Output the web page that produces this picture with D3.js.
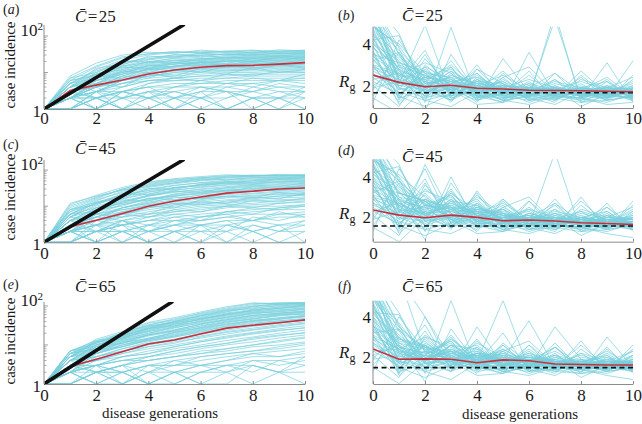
<!DOCTYPE html>
<html><head><meta charset="utf-8">
<script src="https://cdn.jsdelivr.net/npm/d3@7"></script>
<style>
body{margin:0;background:#fff}
svg{display:block}
text{font-family:"Liberation Serif","Times New Roman",serif;fill:#1a1a1a}
</style>
</head><body><svg id="c" width="642" height="424"></svg>
<script>
// ---------------- DATA ----------------
const generations = [0,1,2,3,4,5,6,7,8,9,10];
const xTicks = [0,2,4,6,8,10];
const panelLetters = ["a","b","c","d","e","f"];
const meanContacts = [25,45,65];
const rgTicks = [2,4];
const xTitle = "disease generations";
const incidenceTitle = "case incidence";

// simulated case incidence trajectories (left column)
const incidenceA = [
[1,5,12,22,30,35,38,36,40,38,41],[1,4,10,18,26,30,33,35,34,37,38],[1,6,14,25,33,36,35,38,36,39,40],
[1,3,8,15,22,27,30,31,33,34,35],[1,4,9,14,20,24,26,29,30,31,33],[1,5,11,19,24,28,30,32,31,33,32],
[1,3,7,12,17,21,24,26,28,29,30],[1,2,5,10,15,19,22,25,26,28,29],[1,4,8,13,18,22,24,25,27,27,28],
[1,3,6,11,16,19,21,23,25,26,27],[1,2,4,8,13,17,20,22,23,25,26],[1,5,9,15,19,21,22,24,25,24,25],
[1,3,7,10,14,17,19,21,22,23,24],[1,2,5,8,12,15,18,20,21,22,23],[1,4,7,11,15,17,19,20,20,21,22],
[1,3,5,9,12,15,17,18,19,20,21],[1,2,4,7,11,14,16,17,18,19,20],[1,3,6,10,13,15,16,17,17,18,19],
[1,2,3,6,9,12,14,16,17,17,18],[1,4,6,9,12,13,15,16,16,17,17],[1,2,4,6,9,11,13,14,15,16,16],
[1,3,5,7,10,12,13,14,14,15,15],[1,1,3,5,8,10,12,13,13,14,14],[1,2,4,6,8,10,11,12,12,13,13],
[1,3,4,6,8,9,10,11,11,12,12],[1,2,3,5,7,8,9,10,10,11,11],[1,1,2,4,6,7,8,9,9,10,10],
[1,2,3,4,6,7,8,8,9,9,9],[1,3,4,5,6,6,7,7,8,8,8],[1,2,2,3,5,6,6,7,7,7,7],
[1,1,2,3,4,5,5,6,6,6,6],[1,2,3,3,4,4,5,5,5,6,5],[1,1,2,2,3,4,4,4,5,4,4],
[1,2,1,2,3,3,4,3,3,4,3],[1,1,2,1,2,2,3,3,2,3,3],[1,2,1,2,1,2,2,1,2,2,2],
[1,1,1,2,2,1,2,2,3,2,1],[1,2,2,1,1,2,1,1,2,1,2],[1,3,2,3,2,1,2,3,2,2,4],[1,1,2,3,2,3,2,1,1,2,1],
[1,6,9,16,28,26,34,30,37,33,36],[1,4,13,17,23,31,27,33,29,35,31],[1,7,10,21,19,25,29,26,31,28,34],
[1,3,9,12,20,18,23,27,24,29,26],[1,5,7,14,13,19,17,22,20,26,23],[1,2,6,9,16,14,20,18,24,21,27],
[1,4,5,11,10,15,19,16,21,18,22],[1,6,8,7,13,11,16,14,19,15,17],[1,3,4,8,7,12,10,15,13,17,14],
[1,2,5,4,9,8,13,11,12,16,13],[1,5,3,6,10,7,11,9,14,10,12],[1,1,3,2,5,7,6,9,8,11,10],
[1,3,1,3,2,4,6,5,7,6,9],[1,2,4,2,3,1,3,5,4,6,7],[1,4,2,1,2,3,2,4,3,5,4],
[1,1,3,1,1,2,4,3,1,2,3],[1,2,1,3,4,2,1,2,4,3,2],[1,3,2,1,3,2,3,1,2,1,3],
[1,8,18,30,36,33,41,37,35,42,39],[1,7,15,27,32,38,34,39,41,36,37]
];
const incidenceC = [
[1,8,16,30,45,55,62,70,72,70,73],[1,6,14,26,40,50,58,64,68,70,71],[1,10,18,28,38,48,55,60,65,66,68],
[1,7,12,22,33,42,50,56,60,63,65],[1,5,11,19,28,37,45,52,57,60,62],[1,6,12,20,30,38,44,48,54,57,59],
[1,4,9,16,24,32,40,46,50,54,56],[1,8,13,20,27,33,38,44,47,50,53],[1,3,7,13,20,27,34,40,44,47,50],
[1,5,10,16,22,28,33,38,42,45,48],[1,4,8,13,19,24,30,35,39,42,45],[1,6,9,14,20,25,29,32,36,40,42],
[1,3,6,11,16,21,26,30,34,37,40],[1,2,5,9,14,19,24,28,31,34,37],[1,4,7,11,15,20,23,27,30,32,35],
[1,5,8,12,16,19,22,25,27,30,32],[1,3,5,9,13,17,20,23,26,28,30],[1,2,4,7,11,14,18,21,23,26,28],
[1,3,6,9,12,15,17,19,22,24,26],[1,4,6,8,11,13,16,18,20,22,24],[1,2,3,6,9,12,14,17,19,21,22],
[1,3,5,7,9,11,13,15,17,19,20],[1,2,4,6,8,10,12,13,15,17,18],[1,1,3,5,7,9,11,12,14,15,16],
[1,2,3,4,6,8,10,11,12,14,15],[1,3,4,5,6,7,9,10,11,12,13],[1,2,2,4,5,6,7,9,10,10,11],
[1,1,2,3,4,5,6,7,8,9,10],[1,2,3,3,4,4,5,6,7,8,8],[1,1,2,2,3,4,4,5,6,6,7],
[1,2,1,2,2,3,3,4,4,5,5],[1,3,2,3,2,2,3,3,4,3,4],[1,1,2,1,2,3,2,3,2,3,3],
[1,2,1,2,1,1,2,2,3,2,2],[1,1,2,2,1,2,1,2,1,2,3],[1,2,3,2,1,2,3,1,2,1,1],
[1,3,4,6,5,7,8,10,9,12,14],[1,4,5,8,10,12,11,14,16,19,21],[1,2,2,3,4,6,5,7,9,8,10],[1,1,1,2,3,3,4,5,4,6,6],
[1,11,20,33,47,58,66,74,70,76,72],[1,9,17,30,42,53,61,67,72,69,75],[1,7,15,24,36,44,57,53,63,60,66],
[1,5,13,17,31,29,41,48,45,55,52],[1,8,11,22,21,33,36,44,40,49,46],[1,4,9,12,19,26,24,33,38,35,44],
[1,6,7,15,14,22,27,25,34,31,39],[1,3,8,10,17,15,21,28,26,30,36],[1,5,4,9,12,18,16,22,29,27,33],
[1,2,6,5,10,9,15,19,17,24,21],[1,4,3,7,6,11,13,12,18,16,23],[1,1,4,3,5,8,7,10,14,13,17],
[1,3,1,4,3,5,4,7,6,9,11],[1,2,3,1,2,4,3,2,5,4,6],[1,4,2,3,1,2,1,3,2,1,2],
[1,1,2,4,2,1,3,4,2,3,1],[1,2,1,1,3,2,2,1,3,2,4],[1,3,5,4,2,3,5,6,4,7,5],
[1,12,19,28,35,45,52,63,68,73,70],[1,6,12,18,25,31,39,42,51,57,61]
];
const incidenceE = [
[1,7,13,20,36,44,66,89,115,118,125],[1,6,12,19,33,42,60,80,100,110,118],[1,5,11,18,30,40,55,72,90,100,110],
[1,6,10,16,27,36,50,66,82,92,102],[1,4,9,15,25,33,46,60,75,85,95],[1,5,9,14,22,30,42,55,68,78,88],
[1,3,8,13,20,27,38,50,62,72,80],[1,6,8,12,18,24,34,45,56,66,75],[1,4,7,11,17,22,31,41,51,60,69],
[1,3,6,10,15,20,28,37,46,55,63],[1,5,7,10,14,18,25,33,42,50,58],[1,2,5,8,12,16,22,30,38,45,52],
[1,4,6,9,13,16,21,27,34,41,48],[1,3,5,8,11,14,19,24,30,36,43],[1,2,4,7,10,13,17,22,27,33,39],
[1,4,5,7,9,12,15,19,24,29,35],[1,3,4,6,8,10,13,17,21,26,31],[1,2,3,5,7,9,12,15,19,23,28],
[1,3,4,5,6,8,10,13,16,20,24],[1,2,3,4,5,7,9,11,14,17,21],[1,1,2,3,5,6,8,10,12,15,18],
[1,2,2,3,4,5,7,8,10,12,15],[1,3,3,4,4,5,6,7,9,10,12],[1,1,2,2,3,4,5,6,7,8,10],
[1,2,1,2,3,3,4,5,6,7,8],[1,3,2,3,2,3,3,4,5,5,6],[1,1,2,1,2,2,3,3,4,4,5],
[1,2,1,2,1,2,2,3,3,2,3],[1,1,2,2,1,1,2,2,1,2,2],[1,2,3,2,1,2,1,2,3,2,1],
[1,5,12,17,28,38,52,70,95,108,112],[1,6,11,19,31,37,48,62,78,95,105],[1,4,10,17,26,35,44,58,70,80,90],
[1,5,10,15,24,31,40,51,64,75,84],[1,7,12,16,22,28,36,47,58,64,72],[1,3,7,12,19,25,33,43,53,62,70],
[1,4,8,13,18,23,30,39,48,57,66],[1,2,6,9,14,19,26,34,43,49,56],[1,5,8,11,15,21,27,35,40,46,54],
[1,3,6,10,13,17,23,29,36,42,46],
[1,6,14,22,38,50,70,95,120,112,122],[1,7,11,21,32,47,63,84,108,120,115],[1,5,13,16,29,39,57,77,85,104,108],
[1,4,10,15,23,34,45,64,73,88,99],[1,6,8,14,20,29,40,52,66,70,83],[1,3,9,11,18,23,35,44,57,65,74],
[1,5,6,12,14,21,28,39,46,59,61],[1,2,7,9,13,17,24,31,41,47,55],[1,4,5,7,11,14,20,26,33,39,42],
[1,3,4,6,9,11,16,21,25,31,36],[1,2,3,5,6,9,12,16,20,24,27],[1,1,3,4,5,7,9,11,15,18,20],
[1,3,2,3,4,5,6,8,10,13,16],[1,2,3,2,3,3,5,6,7,9,11],[1,4,2,1,2,4,3,4,6,5,7],
[1,1,2,3,1,2,3,2,4,3,4],[1,2,1,1,2,1,2,3,2,4,3],[1,3,3,1,3,2,1,1,3,2,5],
[1,7,9,18,26,40,56,76,98,115,120],[1,5,12,14,27,31,47,58,79,86,102]
];
const meanIncidenceA = [1,3.2,4.5,6.2,9.1,11.7,13.9,15.4,15.7,17,18.6];
const meanIncidenceC = [1,2.7,4.1,6.3,10,13.9,18,23,26,30,32];
const meanIncidenceE = [1,2.8,4.3,6.7,10.6,13.4,19,27,32,37,44];
// reference exponential growth line (start, end at top of plot)
const growthLineA = [[0,1],[5.34,200]];
const growthLineC = [[0,1],[5.33,190]];
const growthLineE = [[0,1],[4.9,126]];

// generation reproduction number trajectories (right column)
const rgB = [
[6,3.5,2.4,2.2,2,1.9,1.8,1.9,1.8,1.7,1.8],[5,3,2.5,2.1,1.9,1.8,1.9,1.8,1.7,1.8,1.7],[4.2,2.8,2.2,2,1.8,1.9,1.7,1.8,1.8,1.7,1.6],
[3.6,2.5,2.3,1.9,2,1.8,1.8,1.7,1.9,1.8,1.7],[5.5,2.2,1.9,2.1,1.7,1.8,1.7,1.8,1.6,1.7,1.8],[3,2.6,2,1.8,1.9,1.7,1.8,1.6,1.7,1.8,1.6],
[4.8,4,2.6,2.4,2.1,2,1.9,1.8,1.8,1.9,1.7],[2.5,2,1.8,2,1.8,1.9,1.6,1.7,1.8,1.6,1.7],[6,1.5,2.8,1.8,2.2,1.7,1.9,1.8,1.7,1.7,1.8],
[4,3.2,1.6,2.3,1.7,2,1.8,1.7,1.8,1.8,1.6],[2,1,3,2,1.9,1.6,1.8,1.9,1.6,1.7,1.7],[3.3,1.8,2.1,1.6,2,1.7,1.6,1.8,1.7,1.5,1.8],
[5,2.7,1.5,2.6,1.6,2.1,1.5,1.9,1.6,1.8,1.5],[1.5,3,2,1.5,2.2,1.6,1.9,1.5,2,1.5,1.9],[4.5,1.3,3.3,1.9,1.5,2.3,1.6,1.7,1.5,1.9,1.6],
[2.8,2.3,1.7,2.2,1.8,1.5,2,1.6,1.9,1.6,1.7],[6,3.8,1.2,4.8,1.4,1.8,1.7,2,1.5,1.6,1.9],[3.9,2,2.4,1.7,2.5,1.7,1.5,1.8,1.7,2,1.5],
[1.2,4.2,2.2,1.3,2.4,1.9,1.6,1.5,2.1,1.4,2],[5.2,2.4,1.8,2.9,1.5,1.6,2.2,1.4,1.7,1.9,1.4],[2.2,1.6,2.6,1.7,1.6,2.4,1.4,1.9,1.5,1.7,2.1],
[4.3,1.9,1.4,2.5,2.1,1.4,1.7,2.3,1.5,1.6,1.8],[6,2.9,2,1.4,1.9,2.2,1.3,1.6,2.4,1.4,1.7],[3.5,1.4,2.9,2.3,1.3,1.8,2.1,1.5,1.4,2.2,1.5],
[2,2.8,0.8,3.5,1.7,1.3,1.9,1.7,1.6,1.4,2.3],[4.7,3.4,2.3,1.2,2.8,1.6,1.5,1.3,1.9,1.7,1.3],[3,1.2,2.5,2,1.2,2.6,1.4,5.5,1.2,1.8,1.6],
[5.8,2.1,4.9,1.5,2.3,1.5,1.8,1.4,1.8,1.3,1.9],[1.8,3.6,1.6,1.9,1.5,1.2,3.6,1.6,1.3,2,1.4],[4.1,2.6,1.9,3.2,1.6,2,1.3,2,1.5,1.4,3.2],
[2.6,1.7,1.3,1.6,3,1.4,1.6,1.2,2.5,1.5,1.5],[6,4.5,1.7,1.9,1.4,1.6,2.5,1.5,1.3,1.6,1.4],[3.2,2.2,3.7,1.4,1.8,1.3,1.5,5.2,1.4,1.2,1.6],
[1.4,0.7,1.9,2.7,2,1.7,1.2,1.6,1.6,2.3,1.3],[5.3,3.1,2.7,1.8,1.3,3.3,1.7,1.3,1.9,1.3,1.5],[2.4,1.5,1,1.6,2.6,1.5,1.3,1.4,1.2,1.5,1.4],
[4.9,3.9,2.1,2.4,1.5,1.4,1.9,1.6,1.4,3.1,1.2],[6,2.3,1.3,1,1.7,1.8,1.4,1.1,1.7,1.3,2.5],[3.7,1.1,2.2,1.8,1.1,1.2,1.6,1.9,1,1.6,1.3],
[2.9,2.5,1.5,1.5,1.9,1.3,1.1,1.5,1.4,1.1,1.2],
[4.4,3.3,2.1,2.3,1.9,1.7,1.9,1.7,1.8,1.6,1.7],[3.8,2.9,2.5,1.8,2.1,1.9,1.7,1.9,1.6,1.8,1.9],[4.6,2.4,2.7,2.2,1.6,2,1.8,1.6,1.9,1.7,1.6],
[3.2,3.6,1.9,2.5,2,1.6,2.1,1.8,1.7,1.9,1.8],[2.7,2.1,2.9,1.7,2.3,1.8,1.7,2.1,1.8,1.5,1.7],[4,2.7,2.3,2.8,1.8,2.2,1.6,1.8,2.2,1.8,1.6],
[5,1.9,1.6,2.2,2.4,1.7,2,1.7,1.5,2,1.8],[3.5,3.1,2.6,1.6,2,2.5,1.8,1.5,1.8,1.7,2],[4.7,2.3,2,2.4,1.6,1.9,2.3,1.9,1.6,1.5,1.7],
[2.3,2.6,1.7,2.1,2.6,1.5,1.7,2.2,1.9,1.7,1.5],[3.9,1.8,3.5,1.5,1.8,2.7,1.6,1.4,2.3,1.9,1.8],[4.2,4.4,1.8,2.7,1.5,1.7,1.9,2.6,1.4,1.7,1.6],
[3,2,2.2,3,1.9,1.4,1.6,1.7,1.8,2.4,1.5],[5.7,3.5,1.4,1.8,2.8,2.1,1.5,1.8,1.6,1.6,2.2],[2.9,1.6,2.4,2.2,1.4,2.4,2.9,1.6,1.4,1.8,1.7],
[4.5,2.8,1.9,1.3,2.3,1.8,1.4,2.6,1.7,1.4,1.9],[3.4,2.5,3.1,2.6,1.6,1.2,1.8,1.5,2.7,1.6,1.4],[1.9,2.2,1.5,1.9,2.2,2.1,1.3,1.7,1.5,1.9,2.4],
[4.9,3.7,2.4,2.9,1.3,1.6,2.7,1.3,1.9,2.2,1.3],[3.6,1.4,1.8,1.3,1.9,1.3,1.5,2.3,1.2,1.3,1.5]
];
const rgD = [
[6,3.8,2.6,2.4,2.2,2,2,1.9,1.8,1.8,1.7],[5,3.2,2.8,2.5,2.3,2.1,1.9,2,1.9,1.8,1.8],[4.3,2.9,2.4,2.7,2.1,1.9,2.1,1.8,1.9,1.7,1.8],
[3.7,2.6,2.2,2.3,2.4,2,1.8,1.9,1.8,1.9,1.7],[5.6,2.3,2.5,2.1,2,2.2,1.9,1.8,1.7,1.8,1.9],[3.1,2.7,2.1,2.6,2.2,1.8,2,1.9,1.8,1.7,1.8],
[4.8,4.1,3,2.2,2.5,2.1,1.9,1.9,2,1.8,1.7],[2.6,2.1,2.6,2.3,1.9,2,1.8,2.1,1.8,1.9,1.6],[6,1.6,3.2,2,2.7,1.9,2.1,1.7,1.9,1.8,1.9],
[4.1,3.3,1.8,2.9,2.1,2.3,1.8,2,1.8,1.6,1.8],[2.1,1.1,3.6,2.1,2.3,1.7,2.2,1.8,1.7,2,1.7],[3.4,1.9,2.3,3.1,1.8,2.4,1.7,1.8,2.1,1.7,1.6],
[5.1,2.8,1.6,2.4,2.9,1.7,1.9,2.2,1.6,1.9,1.9],[1.6,3.2,2.2,1.8,2.6,1.9,1.7,1.8,1.9,1.6,2],[4.6,1.4,4.6,2.2,1.7,2.5,1.8,1.6,1.9,2.1,1.6],
[2.9,2.4,1.9,3.2,2.3,1.6,2.2,1.9,1.6,1.8,1.9],[6,3.9,1.3,4,1.6,2,1.9,2.4,1.7,1.6,2.1],[4,2.1,2.9,1.9,3.1,1.8,1.6,1.7,2.2,1.9,1.5],
[1.3,4.4,2.5,1.6,2.4,2.2,1.7,1.6,1.8,1.5,2.2],[5.3,2.5,2,3.4,1.7,1.7,2.4,1.5,1.7,2.3,1.5],[2.3,1.7,2.8,1.9,2,2.6,1.5,2.2,1.6,1.7,2.4],
[4.4,2,1.5,2.8,2.6,1.5,1.8,2.6,1.5,1.6,1.6],[6,3,2.2,1.6,2.2,2.4,1.4,1.7,2.3,1.5,1.7],[3.6,1.5,3.4,2.5,1.5,2,2.3,1.6,1.5,2.5,1.4],
[2.1,2.9,0.9,3.7,1.9,1.4,2,1.8,1.7,1.4,2.8],[4.8,3.5,2.7,1.4,3.3,1.7,1.6,1.4,2,1.8,1.5],[3.1,1.3,2.9,2.2,1.3,2.8,1.6,5.2,1.3,1.9,1.6],
[5.9,2.2,4.4,1.7,2.4,1.6,2,1.5,3,1.4,2],[1.9,3.7,1.8,2.1,1.6,1.3,2.8,1.7,1.4,2.1,1.5],[4.2,2.7,2.1,3.3,1.8,2.1,1.4,2.1,1.6,1.5,2.6],
[2.7,1.8,1.4,1.7,3.2,1.5,1.7,1.3,2.6,1.6,1.4],[6,4.6,1.8,2,1.5,1.7,2.5,1.6,1.4,1.7,1.5],[3.3,2.3,3.9,1.5,1.9,1.4,1.6,2.9,1.5,1.3,1.7],
[1.5,0.8,2,2.8,2.1,1.8,1.3,1.7,1.7,2.2,1.4],[5.4,3.2,2.8,1.9,1.4,2.9,1.8,1.4,2,1.4,1.6],[2.5,1.6,1.1,1.7,2.7,1.6,1.4,1.5,1.3,1.6,1.5],
[5,4,2.2,2.5,1.6,1.5,2,1.7,1.5,2.7,1.3],[6,2.4,1.4,1.2,1.8,1.9,1.5,1.2,1.8,1.4,2.3],[3.8,1.2,2.3,1.9,1.2,1.3,1.7,2,1.1,1.7,1.4],
[3,2.6,1.6,1.6,2,1.4,1.2,1.6,1.5,1.2,1],
[4.4,3.4,2.3,2.5,2.1,1.9,2,1.8,1.9,1.7,1.8],[3.8,3,2.7,2,2.3,2.1,1.8,2,1.7,1.9,2],[4.6,2.5,2.9,2.4,1.8,2.2,1.9,1.7,2,1.8,1.7],
[3.2,3.8,2.1,2.7,2.2,1.7,2.2,1.9,1.8,2,1.9],[2.7,2.2,3.1,1.9,2.5,1.9,1.8,2.2,1.9,1.6,1.8],[4,2.8,2.5,3,2,2.4,1.7,1.9,2.3,1.9,1.7],
[5,2,1.8,2.4,2.6,1.8,2.1,1.8,1.6,2.1,1.9],[3.5,3.2,2.8,1.8,2.2,2.7,1.9,1.6,1.9,1.8,2.1],[4.7,2.4,2.2,2.6,1.8,2,2.4,2,1.7,1.6,1.8],
[2.3,2.7,1.9,2.3,2.8,1.6,1.8,2.3,2,1.8,1.6],[3.9,1.9,3.7,1.7,2,2.9,1.7,1.5,2.4,2,1.9],[4.2,4.5,2,2.9,1.7,1.8,2,2.7,1.5,1.8,1.7],
[3,2.1,2.4,3.2,2.1,1.5,1.7,1.8,1.9,2.5,1.6],[5.7,3.6,1.6,2,3,2.2,1.6,1.9,1.7,1.7,2.3],[2.9,1.7,2.6,2.4,1.6,2.5,3,1.7,1.5,1.9,1.8],
[4.5,2.9,2.1,1.5,2.5,1.9,1.5,2.7,1.8,1.5,2],[3.4,2.6,3.3,2.8,1.8,1.3,1.9,1.6,2.8,1.7,1.5],[1.9,2.3,1.7,2.1,2.4,2.2,1.4,1.8,1.6,2,2.5],
[4.9,3.8,2.6,3.1,1.5,1.7,2.8,1.4,2,2.3,1.4],[3.6,1.5,2,1.5,2.1,1.4,1.6,2.4,1.3,1.4,1.6]
];
const rgF = [
[6,3.5,2.4,2.3,2,2.1,2,1.8,1.7,1.7,1.7],[5,2.8,2.5,2.2,1.9,2,1.9,1.8,1.8,1.6,1.7],[4.3,2.5,2.2,2.4,1.8,1.9,2,1.7,1.7,1.7,1.6],
[3.6,2.3,2.1,2,2.1,1.8,1.8,1.8,1.6,1.8,1.7],[5.6,2,2.3,1.9,1.8,2.2,1.7,1.7,1.7,1.6,1.8],[3.1,2.4,1.9,2.3,1.9,1.7,2.1,1.6,1.8,1.7,1.6],
[4.8,6,2.2,1.9,2.2,1.9,1.8,1.9,1.6,1.7,1.7],[2.6,1.8,2.5,2,1.7,2,1.7,1.7,1.8,1.6,1.6],[6,1.4,2.9,1.8,2.4,1.8,2,1.6,1.7,1.8,1.7],
[4.1,3,1.7,2.6,1.8,2.2,1.7,1.9,1.6,1.5,1.8],[2.1,1,3,1.9,2.1,1.6,2.2,1.7,1.6,1.9,1.6],[3.4,1.7,2.1,2.8,1.6,2.3,1.6,1.7,1.9,1.6,1.5],
[5.1,2.6,1.5,2.2,2.6,1.6,1.8,2.1,1.5,1.8,1.8],[1.6,3,2,1.6,2.3,1.8,1.6,1.7,1.8,1.5,1.9],[4.6,1.2,4,2,1.6,2.4,1.7,1.5,1.8,2,1.5],
[2.9,2.2,1.8,2.9,2,1.5,2.1,1.8,1.5,1.7,1.8],[6,3.6,1.2,4.8,1.5,1.9,1.8,2.3,1.6,1.5,2],[4,1.9,2.6,1.7,2.8,1.7,1.5,1.6,2,1.8,1.5],
[1.3,4,2.3,1.5,2.2,2.1,1.6,1.5,1.7,1.4,2.1],[5.3,2.3,1.8,3.1,1.6,1.6,2.3,1.4,1.6,2.2,1.4],[2.3,1.6,2.6,1.7,1.8,4.8,1.4,2.1,1.5,1.6,2.3],
[4.4,1.8,1.4,2.6,2.4,1.4,1.7,2.5,1.4,1.5,1.5],[6,2.7,2,1.5,2,2.3,1.3,1.6,2.2,1.4,1.6],[3.6,1.4,3.1,2.3,1.4,1.9,3.8,1.5,1.4,2.4,1.3],
[2.1,2.6,0.8,3.4,1.7,1.3,1.9,1.7,1.6,1.3,2.6],[4.8,3.3,2.5,1.3,3.5,1.6,1.5,3.5,1.9,1.7,1.4],[3.1,1.2,2.7,2,1.2,2.6,1.5,1.3,1.2,3,1.5],
[5.9,5.9,4,1.6,2.2,1.5,1.9,1.4,2.8,1.3,1.9],[1.9,3.4,1.7,1.9,1.5,1.2,2.6,1.6,1.3,2,1.4],[4.2,2.5,1.9,3,1.7,3.2,1.3,2,1.5,1.4,2.4],
[2.7,1.7,1.3,1.6,2.9,1.4,1.6,1.2,2.4,1.5,1.3],[6,4.2,1.7,1.8,1.4,1.6,2.4,1.5,1.3,1.6,1.4],[3.3,2.1,3.6,1.4,1.8,1.3,1.5,2.7,1.4,1.2,1.6],
[1.5,0.7,1.8,2.6,2,1.7,1.2,1.6,1.6,2.1,1.3],[5.4,2.9,2.6,1.8,1.3,2.7,1.7,1.3,1.9,1.3,1.5],[2.5,1.5,1,1.6,2.5,1.5,1.3,1.4,1.2,1.5,1.4],
[5,3.7,2,2.3,1.5,1.4,1.9,1.6,1.4,2.5,1.2],[6,2.2,1.3,0.9,1.7,1.8,1.4,1.1,1.7,1.3,2.1],[3.8,1.1,2.1,1.8,1.1,1.2,1.6,1.9,1,1.6,1.3],
[3,2.4,1.5,1.5,1.9,1.3,1.1,1.5,1.4,1.1,0.9],
[4.4,3.1,2,2.2,1.8,1.8,1.9,1.7,1.7,1.6,1.7],[3.8,2.7,2.4,1.8,2,1.9,1.7,1.8,1.6,1.7,1.8],[4.6,2.2,2.6,2.1,1.6,2,1.8,1.6,1.8,1.6,1.6],
[3.2,3.4,1.8,2.4,1.9,1.6,2,1.7,1.6,1.8,1.7],[2.7,2,2.8,1.7,2.2,1.7,1.6,2,1.7,1.5,1.6],[4,2.5,2.2,2.7,1.7,2.1,1.6,1.7,2.1,1.7,1.5],
[5,1.8,1.6,2.1,2.3,1.6,1.9,1.6,1.5,1.9,1.7],[3.5,2.9,2.5,1.6,1.9,2.4,1.7,1.5,1.7,1.6,1.9],[4.7,2.2,1.9,2.3,1.6,1.8,2.2,1.8,1.5,1.5,1.6],
[2.3,2.4,1.7,2,2.5,1.5,1.6,2.1,1.8,1.6,1.5],[3.9,1.7,3.3,1.5,1.7,2.6,1.5,1.4,2.2,1.8,1.7],[4.2,4.1,1.8,2.6,1.5,1.6,1.8,2.5,1.4,1.6,1.5],
[3,1.9,2.1,2.9,1.8,1.4,1.6,1.6,1.7,2.3,1.5],[5.7,3.3,1.4,1.8,2.7,2,1.5,1.7,1.5,1.6,2.1],[2.9,1.5,2.3,2.1,1.4,2.3,2.8,1.6,1.4,1.7,1.6],
[4.5,2.6,1.9,1.3,2.2,1.7,1.4,2.5,1.6,1.4,1.8],[3.4,2.4,3,2.5,1.6,1.2,1.7,1.5,2.6,1.5,1.4],[1.9,2.1,1.5,1.8,2.1,2,1.3,1.6,1.5,1.8,2.3],
[4.9,3.5,2.3,2.8,1.3,1.5,2.6,1.3,1.8,2.1,1.3],[3.6,1.3,1.7,1.3,1.8,1.3,1.5,2.2,1.2,1.3,1.5]
];
const meanRgB = [2.51,2.16,1.95,2.02,1.88,1.84,1.78,1.77,1.76,1.73,1.71];
const meanRgD = [2.36,2.11,1.98,2.11,2.0,1.83,1.87,1.82,1.73,1.7,1.65];
const meanRgF = [2.41,1.9,1.92,1.9,1.73,1.87,1.83,1.67,1.64,1.62,1.62];
const thresholdRg = [1.66,1.57,1.49];

// ---------------- LAYOUT ----------------
const CYAN = "#78d0dd", RED = "#c92f3d", AXIS = "#8c8c8c";
const svg = d3.select("#c");
const leftX = [44, 305], rightX = [373, 633];
const leftRows = [
  {top:25, bottom:109, yTop:200, tickPad:3},
  {top:160, bottom:242.3, yTop:190, tickPad:5},
  {top:302, bottom:384, yTop:126, tickPad:5}
];
const rightRows = [
  {top:26.7, bottom:108, dom:[0.93,4.83], tickPad:4},
  {top:159.3, bottom:241.7, dom:[0.80,4.86], tickPad:5},
  {top:300.7, bottom:384, dom:[0.68,4.79], tickPad:5}
];
const labelPos = [
  {lx:3, ly:14, cx:75, cy:22, rx:338, ry:20, dcx:402, dcy:21, titleY:65, rgY:87},
  {lx:3, ly:149, cx:75, cy:154, rx:338, ry:155, dcx:402, dcy:162, titleY:197, rgY:219},
  {lx:3, ly:289, cx:75, cy:292, rx:338, ry:291, dcx:402, dcy:292, titleY:341, rgY:358}
];
const incidenceSets = [incidenceA, incidenceC, incidenceE];
const meanIncSets = [meanIncidenceA, meanIncidenceC, meanIncidenceE];
const growthSets = [growthLineA, growthLineC, growthLineE];
const rgSets = [rgB, rgD, rgF];
const meanRgSets = [meanRgB, meanRgD, meanRgF];

const defs = svg.append("defs");
const TICK_FS = 17;

function panelLabel(x, y, letter) {
  const t = svg.append("text").attr("x", x).attr("y", y).attr("font-size", 14);
  t.append("tspan").text("(");
  t.append("tspan").attr("font-style", "italic").text(letter);
  t.append("tspan").text(")");
}
function cLabel(x, y, val) {
  const t = svg.append("text").attr("x", x).attr("y", y).attr("font-size", 17);
  t.append("tspan").attr("font-style", "italic").text("C\u0304");
  t.append("tspan").text("\u200A=\u200A" + val);
}
function xAxis(g, x, bottom, pad) {
  const ax = g.append("g").attr("transform", `translate(0,${bottom})`)
    .call(d3.axisBottom(x).tickValues(xTicks).tickSizeInner(-3).tickSizeOuter(0).tickPadding(pad));
  ax.select(".domain").attr("stroke", AXIS);
  ax.selectAll(".tick line").attr("stroke", AXIS);
  ax.selectAll("text").attr("font-size", TICK_FS).attr("fill", "#1a1a1a");
}

for (let r = 0; r < 3; r++) {
  // ---------- left panel ----------
  const L = leftRows[r];
  const x = d3.scaleLinear().domain([0, 10]).range(leftX);
  const y = d3.scaleLog().domain([1, L.yTop]).range([L.bottom, L.top]);
  const cid = "clipL" + r;
  defs.append("clipPath").attr("id", cid).append("rect")
    .attr("x", leftX[0]).attr("y", L.top).attr("width", leftX[1] - leftX[0] + 2).attr("height", L.bottom - L.top + 1);
  const g = svg.append("g");
  const pg = g.append("g").attr("clip-path", `url(#${cid})`);
  const line = d3.line().x((d, i) => x(generations[i])).y(d => y(d));
  pg.selectAll("path.traj").data(incidenceSets[r]).join("path")
    .attr("d", line).attr("fill", "none").attr("stroke", CYAN).attr("stroke-width", 0.7);
  pg.append("path").attr("d", line(meanIncSets[r])).attr("fill", "none").attr("stroke", RED).attr("stroke-width", 1.6);
  pg.append("path").attr("d", d3.line().x(d => x(d[0])).y(d => y(d[1]))(growthSets[r]))
    .attr("fill", "none").attr("stroke", "#111").attr("stroke-width", 3.6).attr("stroke-linecap", "round");
  // y axis (log)
  g.append("line").attr("x1", leftX[0]).attr("x2", leftX[0]).attr("y1", L.top).attr("y2", L.bottom).attr("stroke", AXIS);
  const minor = [2,3,4,5,6,7,8,9,20,30,40,50,60,70,80,90].filter(v => v <= L.yTop);
  g.selectAll("line.mn").data(minor).join("line")
    .attr("x1", leftX[0]).attr("x2", leftX[0] + 2.5).attr("y1", d => y(d)).attr("y2", d => y(d))
    .attr("stroke", AXIS).attr("stroke-width", 0.7);
  g.selectAll("line.mj").data([10, 100]).join("line")
    .attr("x1", leftX[0]).attr("x2", leftX[0] + 4).attr("y1", d => y(d)).attr("y2", d => y(d))
    .attr("stroke", AXIS).attr("stroke-width", 0.8);
  g.append("text").attr("x", 41).attr("y", y(1) + 8).attr("text-anchor", "end").attr("font-size", TICK_FS).text("1");
  const t100 = g.append("text").attr("x", 43).attr("y", y(100)).attr("text-anchor", "end").attr("font-size", TICK_FS);
  t100.append("tspan").text("10");
  t100.append("tspan").attr("font-size", 11).attr("dy", -6).text("2");
  xAxis(g, x, L.bottom, L.tickPad);
  g.append("text").attr("transform", `translate(15,${labelPos[r].titleY}) rotate(-90)`)
    .attr("text-anchor", "middle").attr("font-size", 15).text(incidenceTitle);
  panelLabel(labelPos[r].lx, labelPos[r].ly, panelLetters[2 * r]);
  cLabel(labelPos[r].cx, labelPos[r].cy, meanContacts[r]);

  // ---------- right panel ----------
  const R = rightRows[r];
  const x2 = d3.scaleLinear().domain([0, 10]).range(rightX);
  const y2 = d3.scaleLinear().domain(R.dom).range([R.bottom, R.top]);
  const cid2 = "clipR" + r;
  defs.append("clipPath").attr("id", cid2).append("rect")
    .attr("x", rightX[0]).attr("y", R.top).attr("width", rightX[1] - rightX[0] + 2).attr("height", R.bottom - R.top);
  const g2 = svg.append("g");
  const pg2 = g2.append("g").attr("clip-path", `url(#${cid2})`);
  const line2 = d3.line().x((d, i) => x2(generations[i])).y(d => y2(d));
  pg2.selectAll("path.traj").data(rgSets[r]).join("path")
    .attr("d", line2).attr("fill", "none").attr("stroke", CYAN).attr("stroke-width", 0.7);
  pg2.append("line").attr("x1", x2(0)).attr("x2", x2(10)).attr("y1", y2(thresholdRg[r])).attr("y2", y2(thresholdRg[r]))
    .attr("stroke", "#111").attr("stroke-width", 1.6).attr("stroke-dasharray", "5,3.5");
  pg2.append("path").attr("d", line2(meanRgSets[r])).attr("fill", "none").attr("stroke", RED).attr("stroke-width", 1.6);
  g2.append("line").attr("x1", rightX[0]).attr("x2", rightX[0]).attr("y1", R.top).attr("y2", R.bottom).attr("stroke", AXIS);
  g2.selectAll("text.yt").data(rgTicks).join("text")
    .attr("x", 371).attr("y", d => y2(d)).attr("dy", "0.35em").attr("text-anchor", "end").attr("font-size", TICK_FS).text(d => d);
  xAxis(g2, x2, R.bottom, R.tickPad);
  const rg = g2.append("text").attr("x", 339).attr("y", labelPos[r].rgY).attr("font-size", 17);
  rg.append("tspan").attr("font-style", "italic").text("R");
  rg.append("tspan").attr("font-size", 12).attr("dy", 4).text("g");
  panelLabel(labelPos[r].rx, labelPos[r].ry, panelLetters[2 * r + 1]);
  cLabel(labelPos[r].dcx, labelPos[r].dcy, meanContacts[r]);
}
svg.append("text").attr("x", 160).attr("y", 418).attr("text-anchor", "middle").attr("font-size", 15).text(xTitle);
svg.append("text").attr("x", 520).attr("y", 419).attr("text-anchor", "middle").attr("font-size", 15).text(xTitle);
</script>
</body></html>
